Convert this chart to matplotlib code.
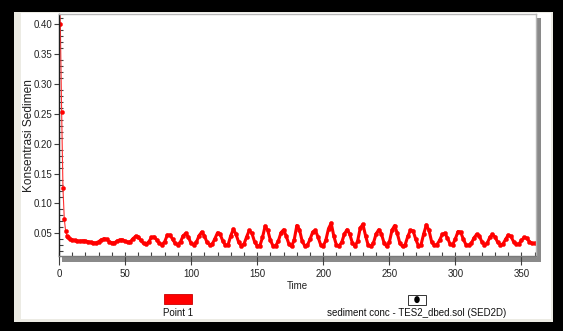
import matplotlib
matplotlib.use("Agg")
import matplotlib.pyplot as plt
from matplotlib.patches import Rectangle, Ellipse
from matplotlib.ticker import MultipleLocator, FormatStrFormatter

plt.rcParams['font.family'] = ['Liberation Sans', 'DejaVu Sans']

# ---- data ----
time_early = [0, 1, 2, 3, 4, 5, 6, 7]
conc_early = [0.48, 0.400, 0.253, 0.125, 0.074, 0.054, 0.046, 0.043]

time_main = list(range(8, 361, 2))
conc_main = [
    0.041, 0.039, 0.038, 0.037, 0.037, 0.0375, 0.037, 0.036, 0.035, 0.034,
    0.034, 0.036, 0.039, 0.041, 0.040, 0.036, 0.034, 0.034, 0.037, 0.039,
    0.039, 0.037, 0.035, 0.036, 0.041, 0.045, 0.044, 0.038, 0.033, 0.032,
    0.036, 0.043, 0.044, 0.039, 0.033, 0.031, 0.036, 0.047, 0.047, 0.040,
    0.033, 0.031, 0.036, 0.046, 0.050, 0.043, 0.033, 0.031, 0.035, 0.046,
    0.052, 0.046, 0.035, 0.031, 0.032, 0.041, 0.051, 0.048, 0.037, 0.030,
    0.031, 0.046, 0.057, 0.048, 0.035, 0.029, 0.032, 0.044, 0.055, 0.050,
    0.036, 0.029, 0.029, 0.043, 0.062, 0.055, 0.038, 0.029, 0.029, 0.037,
    0.051, 0.056, 0.045, 0.032, 0.028, 0.039, 0.063, 0.056, 0.037, 0.029,
    0.030, 0.040, 0.052, 0.055, 0.044, 0.031, 0.028, 0.039, 0.058, 0.067,
    0.045, 0.030, 0.029, 0.035, 0.049, 0.056, 0.049, 0.034, 0.028, 0.037,
    0.059, 0.065, 0.046, 0.030, 0.028, 0.034, 0.049, 0.056, 0.049, 0.034,
    0.028, 0.035, 0.055, 0.063, 0.050, 0.033, 0.028, 0.031, 0.045, 0.055,
    0.054, 0.040, 0.029, 0.031, 0.049, 0.064, 0.055, 0.036, 0.030, 0.031,
    0.038, 0.048, 0.050, 0.042, 0.032, 0.031, 0.041, 0.053, 0.052, 0.040,
    0.031, 0.030, 0.033, 0.042, 0.048, 0.046, 0.036, 0.031, 0.033, 0.043,
    0.048, 0.044, 0.035, 0.031, 0.032, 0.040, 0.047, 0.045, 0.036, 0.032,
    0.032, 0.038, 0.043, 0.042, 0.036, 0.033, 0.033,
]

time = time_early + time_main
conc = conc_early + conc_main

y_label = "Konsentrasi Sedimen"
x_label = "Time"
legend_series = "Point 1"
legend_source = "sediment conc - TES2_dbed.sol (SED2D)"

# ---- layout helpers (pixels -> figure fraction) ----
W, H = 563, 331
def fx(px):
    return px / W
def fy(py):
    return 1 - py / H

fig = plt.figure(figsize=(W / 100, H / 100), dpi=100, facecolor='black')

# panel background
fig.patches.append(Rectangle((fx(14), fy(322)), fx(553) - fx(14), fy(12) - fy(322),
                             transform=fig.transFigure, facecolor='#ecebe4',
                             edgecolor='none', zorder=-3))
fig.patches.append(Rectangle((fx(21), fy(319)), fx(551) - fx(21), fy(12.5) - fy(319),
                             transform=fig.transFigure, facecolor='white',
                             edgecolor='none', zorder=-2))
# drop shadow of plot frame
fig.patches.append(Rectangle((fx(62), fy(262)), fx(540.5) - fx(62), fy(18) - fy(262),
                             transform=fig.transFigure, facecolor='#8a8a8a',
                             edgecolor='none', zorder=-1))

ax = fig.add_axes([fx(59), fy(256), fx(536) - fx(59), fy(14) - fy(256)])
ax.set_facecolor('white')
ax.set_zorder(0)

# thin connecting line for the steep initial drop, thick band for the rest
ax.plot(time, conc, '-', color='#ff3030', lw=0.8)
ax.plot(time[1:], conc[1:], 'o', ms=3.0, mfc='#ff0000', mec='#ff0000', mew=0.3)
ax.plot(time_main, conc_main, '-', color='#ff0000', lw=2.2)

ax.set_xlim(0, 361)
ax.set_ylim(0.012, 0.417)

ax.xaxis.set_major_locator(MultipleLocator(50))
ax.xaxis.set_minor_locator(MultipleLocator(10))
ax.xaxis.remove_overlapping_locs = False
ax.yaxis.set_major_locator(MultipleLocator(0.05))
ax.yaxis.set_minor_locator(MultipleLocator(0.01))
ax.yaxis.set_major_formatter(FormatStrFormatter('%.2f'))

ax.tick_params(axis='x', which='major', direction='out', length=6.5, width=0.8,
               color='#404040', pad=3, labelsize=7, labelcolor='#222222')
ax.tick_params(axis='x', which='minor', direction='in', length=3, width=0.8,
               color='#404040')
ax.tick_params(axis='y', which='major', direction='out', length=3.6, width=0.8,
               color='#404040', pad=1.5, labelsize=7, labelcolor='#222222')
ax.tick_params(axis='y', which='minor', direction='in', length=3, width=0.8,
               color='#404040')

ax.spines['left'].set_color('#202020')
ax.spines['left'].set_linewidth(1.0)
ax.spines['bottom'].set_color('#7a7a7a')
ax.spines['bottom'].set_linewidth(1.0)
for s in ('top', 'right'):
    ax.spines[s].set_color('#b8b8b8')
    ax.spines[s].set_linewidth(1.0)

# axis labels
fig.text(fx(29), fy(136), y_label, rotation=90, ha='center', va='center',
         fontsize=8.6, color='#222222')
fig.text(fx(297), fy(286), x_label, ha='center', va='center',
         fontsize=7, color='#222222')

# legend item 1
fig.patches.append(Rectangle((fx(164), fy(303.5)), fx(192) - fx(164), fy(294) - fy(303.5),
                             transform=fig.transFigure, facecolor='#ff0000',
                             edgecolor='#cc0000', lw=0.6, zorder=2))
fig.text(fx(178), fy(312.5), legend_series, ha='center', va='center',
         fontsize=7, color='#111111')

# legend item 2
fig.patches.append(Rectangle((fx(408), fy(304.5)), fx(426) - fx(408), fy(294.5) - fy(304.5),
                             transform=fig.transFigure, facecolor='white',
                             edgecolor='#333333', lw=0.7, zorder=2))
fig.patches.append(Ellipse((fx(417), fy(299.6)), fx(5.5), 7 / H,
                           transform=fig.transFigure, facecolor='black',
                           edgecolor='none', zorder=3))
fig.text(fx(417), fy(313), legend_source, ha='center', va='center',
         fontsize=7, color='#111111')

fig.savefig('out.png', dpi=100, facecolor=fig.get_facecolor())
